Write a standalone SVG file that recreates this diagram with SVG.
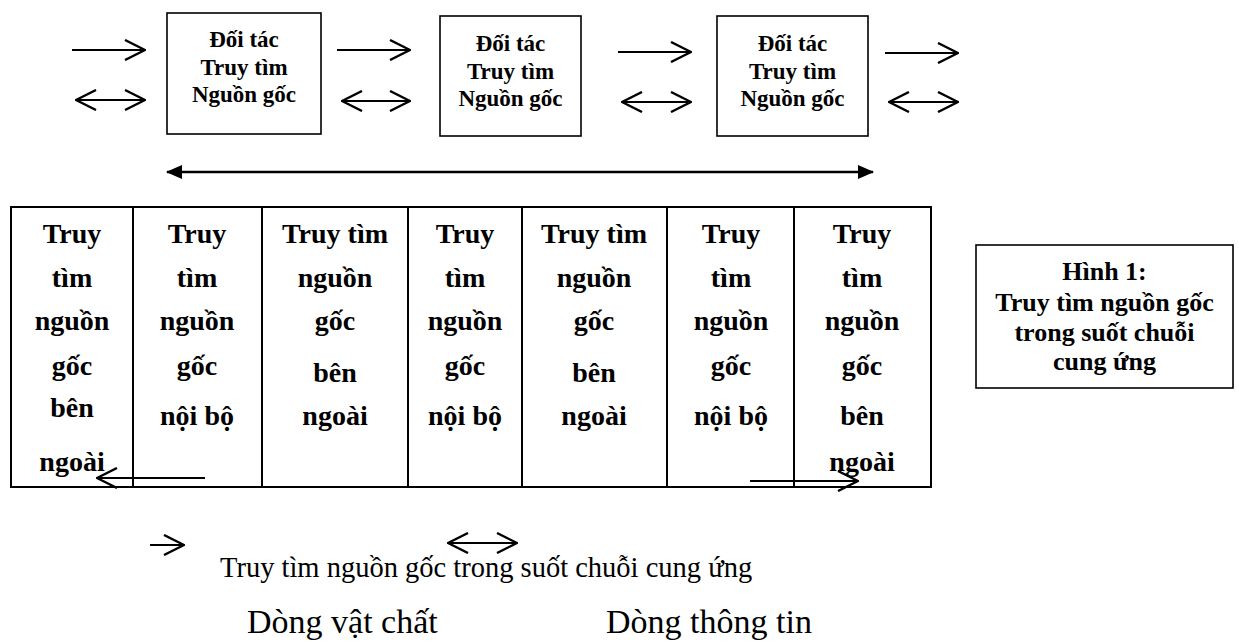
<svg xmlns="http://www.w3.org/2000/svg" width="1239" height="642" viewBox="0 0 1239 642">
<style>
.box{fill:#fff;stroke:#000;stroke-width:1.6}
.tb{fill:none;stroke:#000;stroke-width:2}
.ln{fill:none;stroke:#000;stroke-width:2.2}
.bt{font-family:"Liberation Serif","Times New Roman",serif;font-weight:bold;text-anchor:middle;fill:#000}
.t23{font-size:23px}
.t28{font-size:28px}
.t26{font-size:26px}
.rt{font-family:"Liberation Serif","Times New Roman",serif;fill:#000}
</style>
<defs>
<marker id="oa" viewBox="0 0 22 22" refX="21" refY="11" markerWidth="22" markerHeight="22" markerUnits="userSpaceOnUse" orient="auto-start-reverse">
<path d="M1,1 L21,11 L1,21" fill="none" stroke="#000" stroke-width="2.4"/>
</marker>
<marker id="fa" viewBox="0 0 16 14" refX="15" refY="7" markerWidth="16" markerHeight="14" markerUnits="userSpaceOnUse" orient="auto-start-reverse">
<path d="M0,0 L16,7 L0,14 z" fill="#000"/>
</marker>
</defs>

<g id="partner1">
<rect class="box" x="167" y="13" width="154" height="121"/>
<text class="bt t23" x="244" y="47">Đối tác</text>
<text class="bt t23" x="244" y="75">Truy tìm</text>
<text class="bt t23" x="244" y="102">Nguồn gốc</text>
</g>
<g id="partner2">
<rect class="box" x="440" y="16" width="141" height="120"/>
<text class="bt t23" x="510.5" y="51">Đối tác</text>
<text class="bt t23" x="510.5" y="79">Truy tìm</text>
<text class="bt t23" x="510.5" y="106">Nguồn gốc</text>
</g>
<g id="partner3">
<rect class="box" x="717" y="16" width="151" height="120"/>
<text class="bt t23" x="792.5" y="51">Đối tác</text>
<text class="bt t23" x="792.5" y="79">Truy tìm</text>
<text class="bt t23" x="792.5" y="106">Nguồn gốc</text>
</g>

<g id="table">
<rect class="tb" x="11" y="207" width="920" height="280"/>
<path class="tb" d="M133,207V487M262,207V487M408,207V487M522,207V487M667,207V487M794,207V487"/>
</g>
<g id="col1">
<text class="bt t28" x="72" y="243">Truy</text>
<text class="bt t28" x="72" y="287">tìm</text>
<text class="bt t28" x="72" y="330">nguồn</text>
<text class="bt t28" x="72" y="375">gốc</text>
<text class="bt t28" x="72" y="417">bên</text>
<text class="bt t28" x="72" y="471">ngoài</text>
</g>
<g id="col2">
<text class="bt t28" x="197" y="243">Truy</text>
<text class="bt t28" x="197" y="287">tìm</text>
<text class="bt t28" x="197" y="330">nguồn</text>
<text class="bt t28" x="197" y="375">gốc</text>
<text class="bt t28" x="197" y="425">nội bộ</text>
</g>
<g id="col3">
<text class="bt t28" x="335" y="243">Truy tìm</text>
<text class="bt t28" x="335" y="287">nguồn</text>
<text class="bt t28" x="335" y="330">gốc</text>
<text class="bt t28" x="335" y="382">bên</text>
<text class="bt t28" x="335" y="425">ngoài</text>
</g>
<g id="col4">
<text class="bt t28" x="465" y="243">Truy</text>
<text class="bt t28" x="465" y="287">tìm</text>
<text class="bt t28" x="465" y="330">nguồn</text>
<text class="bt t28" x="465" y="375">gốc</text>
<text class="bt t28" x="465" y="425">nội bộ</text>
</g>
<g id="col5">
<text class="bt t28" x="594" y="243">Truy tìm</text>
<text class="bt t28" x="594" y="287">nguồn</text>
<text class="bt t28" x="594" y="330">gốc</text>
<text class="bt t28" x="594" y="382">bên</text>
<text class="bt t28" x="594" y="425">ngoài</text>
</g>
<g id="col6">
<text class="bt t28" x="731" y="243">Truy</text>
<text class="bt t28" x="731" y="287">tìm</text>
<text class="bt t28" x="731" y="330">nguồn</text>
<text class="bt t28" x="731" y="375">gốc</text>
<text class="bt t28" x="731" y="425">nội bộ</text>
</g>
<g id="col7">
<text class="bt t28" x="862" y="243">Truy</text>
<text class="bt t28" x="862" y="287">tìm</text>
<text class="bt t28" x="862" y="330">nguồn</text>
<text class="bt t28" x="862" y="375">gốc</text>
<text class="bt t28" x="862" y="425">bên</text>
<text class="bt t28" x="862" y="471">ngoài</text>
</g>

<g id="caption">
<rect class="box" x="976" y="245" width="257" height="143"/>
<text class="bt t26" x="1104.5" y="280">Hình 1:</text>
<text class="bt t26" x="1104.5" y="311">Truy tìm nguồn gốc</text>
<text class="bt t26" x="1104.5" y="341">trong suốt chuỗi</text>
<text class="bt t26" x="1104.5" y="370">cung ứng</text>
</g>

<g id="connectors">
<line class="ln" x1="72" y1="50" x2="145" y2="50" marker-end="url(#oa)"/>
<line class="ln" x1="337" y1="50" x2="410" y2="50" marker-end="url(#oa)"/>
<line class="ln" x1="618" y1="52" x2="691" y2="52" marker-end="url(#oa)"/>
<line class="ln" x1="885" y1="53" x2="958" y2="53" marker-end="url(#oa)"/>
<line class="ln" x1="76" y1="100" x2="145" y2="100" marker-start="url(#oa)" marker-end="url(#oa)"/>
<line class="ln" x1="342" y1="101" x2="410" y2="101" marker-start="url(#oa)" marker-end="url(#oa)"/>
<line class="ln" x1="622" y1="102" x2="691" y2="102" marker-start="url(#oa)" marker-end="url(#oa)"/>
<line class="ln" x1="889" y1="102" x2="958" y2="102" marker-start="url(#oa)" marker-end="url(#oa)"/>
<line x1="167" y1="172" x2="873" y2="172" stroke="#000" stroke-width="2.5" marker-start="url(#fa)" marker-end="url(#fa)"/>
<line class="ln" x1="205" y1="478" x2="97" y2="478" marker-end="url(#oa)"/>
<line class="ln" x1="750" y1="481" x2="858" y2="481" marker-end="url(#oa)"/>
</g>

<g id="legend">
<line class="ln" x1="150" y1="545" x2="184" y2="545" marker-end="url(#oa)"/>
<line class="ln" x1="448" y1="543" x2="517" y2="543" marker-start="url(#oa)" marker-end="url(#oa)"/>
<text class="rt" x="220" y="577" font-size="28.5">Truy tìm nguồn gốc trong suốt chuỗi cung ứng</text>
<text class="rt" x="247" y="633" font-size="34">Dòng vật chất</text>
<text class="rt" x="606" y="633" font-size="34">Dòng thông tin</text>
</g>
</svg>
